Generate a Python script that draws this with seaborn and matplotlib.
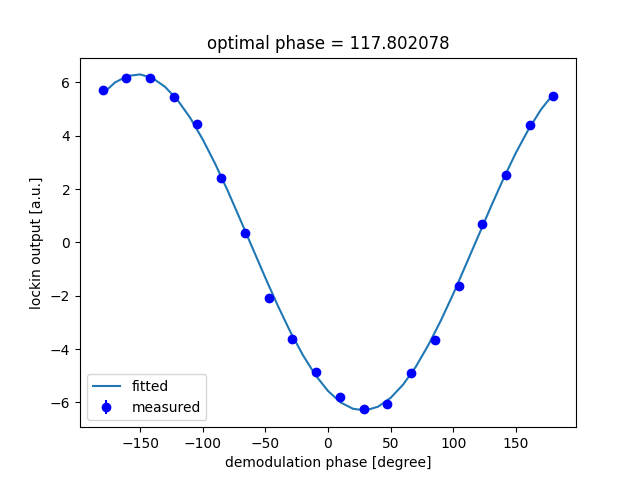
import pandas as pd
import seaborn as sns
import matplotlib
matplotlib.use("Agg")
import matplotlib.pyplot as plt

# measured lockin output vs demodulation phase
phase_meas = [-180.0, -161.05, -142.11, -123.16, -104.21, -85.26, -66.32, -47.37,
              -28.42, -9.47, 9.47, 28.42, 47.37, 66.32, 85.26, 104.21,
              123.16, 142.11, 161.05, 180.0]
lockin_meas = [5.72, 6.15, 6.18, 5.44, 4.45, 2.43, 0.37, -2.07,
               -3.61, -4.85, -5.80, -6.25, -6.05, -4.88, -3.65, -1.62,
               0.70, 2.52, 4.40, 5.48]
lockin_err = [0.05] * 20

phase_fit = [-180, -170, -160, -150, -140, -130, -120, -110, -100, -90,
             -80, -70, -60, -50, -40, -30, -20, -10, 0, 10,
             20, 30, 40, 50, 60, 70, 80, 90, 100, 110,
             120, 130, 140, 150, 160, 170, 180]
lockin_fit = [5.57, 6.00, 6.24, 6.30, 6.16, 5.83, 5.33, 4.67, 3.86, 2.94,
              1.93, 0.85, -0.24, -1.33, -2.38, -3.36, -4.23, -4.98, -5.57, -6.00,
              -6.24, -6.30, -6.16, -5.83, -5.33, -4.67, -3.86, -2.94, -1.93, -0.85,
              0.24, 1.33, 2.38, 3.36, 4.23, 4.98, 5.57]

opt_phase = 117.802078

df_fit = pd.DataFrame({'phase': phase_fit, 'lockin': lockin_fit})

fig, ax = plt.subplots(figsize=(6.4, 4.8), dpi=100)

sns.lineplot(x='phase', y='lockin', data=df_fit, ax=ax, color='C0', label='fitted')
ax.errorbar(phase_meas, lockin_meas, yerr=lockin_err, fmt='o', color='b', label='measured')

ax.set_xlabel("demodulation phase [degree]")
ax.set_ylabel("lockin output [a.u.]")
ax.set_title("optimal phase = %f" % opt_phase)
ax.legend(loc='lower left')

plt.savefig("out.png")
